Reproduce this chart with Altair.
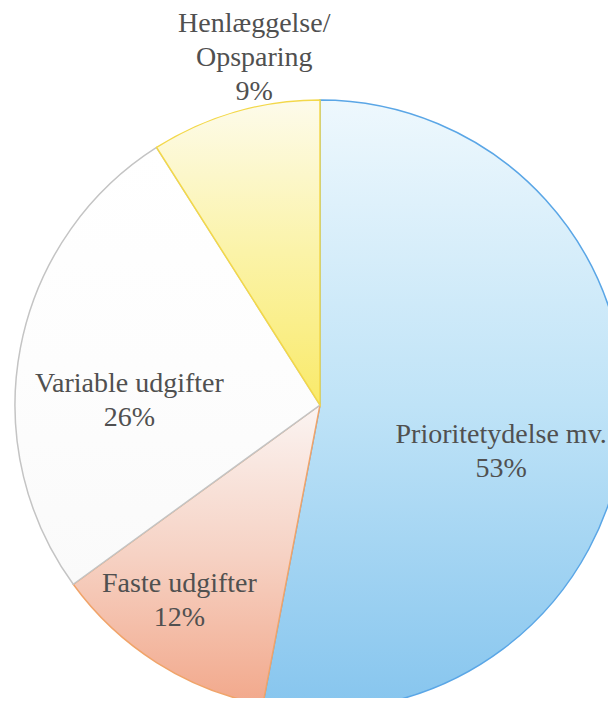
import altair as alt
import pandas as pd

# ---- data ----
categories = ["Prioritetydelse mv.", "Faste udgifter", "Variable udgifter", "Henlæggelse/Opsparing"]
label_texts = ["Prioritetydelse mv.", "Faste udgifter", "Variable udgifter", "Henlæggelse/\nOpsparing"]
values = [53, 12, 26, 9]

# ---- derived table ----
rows = []
acc = 0
for cat, lab, v in zip(categories, label_texts, values):
    rows.append({"category": cat, "start": acc, "end": acc + v, "mid": acc + v / 2,
                 "label": f"{lab}\n{v}%"})
    acc += v
df = pd.DataFrame(rows)

# ---- styles ----
CX, CY, R = 312, 397, 305
styles = {
    "Prioritetydelse mv.": {"stops": ["#eef8fd", "#bfe3f7", "#86c5ee"], "stroke": "#5aa6e6",
                            "r": 186, "dx": -4, "dy": 12},
    "Faste udgifter": {"stops": ["#fbf4f2", "#f6d2c4", "#f2a88b"], "stroke": "#f0a46a",
                       "r": 240, "dx": -12, "dy": -24},
    "Variable udgifter": {"stops": ["#ffffff", "#fdfdfd", "#fafafa"], "stroke": "#c4c4c4",
                          "r": 191, "dx": -3, "dy": 15},
    "Henlæggelse/Opsparing": {"stops": ["#fdfbeb", "#fbf3a8", "#f9ea6a"], "stroke": "#f3d84a",
                              "r": 354, "dx": 33, "dy": -41},
}

theta_scale = alt.Scale(domain=[0, 100], range=[0, 6.283185307179586])

base = alt.Chart(df)
layers = []
for cat in categories:
    st = styles[cat]
    grad = alt.Gradient(
        gradient="linear", x1=0, y1=0, x2=0, y2=1,
        stops=[alt.GradientStop(offset=0, color=st["stops"][0]),
               alt.GradientStop(offset=0.5, color=st["stops"][1]),
               alt.GradientStop(offset=1, color=st["stops"][2])],
    )
    layers.append(
        base.transform_filter(alt.datum.category == cat)
        .mark_arc(radius=R, fill=grad, stroke=st["stroke"], strokeWidth=1.5)
        .encode(
            theta=alt.Theta("start:Q", scale=theta_scale),
            theta2="end:Q",
            x=alt.value(CX), y=alt.value(CY),
        )
    )

for cat in categories:
    st = styles[cat]
    layers.append(
        base.transform_filter(alt.datum.category == cat)
        .mark_text(radius=st["r"], dx=st["dx"], dy=st["dy"], font="Liberation Serif",
                   fontSize=28, color="#505050", lineBreak="\n", lineHeight=34,
                   align="center", baseline="middle")
        .encode(
            theta=alt.Theta("mid:Q", scale=theta_scale),
            text="label:N",
            x=alt.value(CX), y=alt.value(CY),
        )
    )

chart = alt.layer(*layers).properties(
    width=600, height=690, padding=0,
    autosize=alt.AutoSizeParams(type="none"),
    background="white",
).configure_view(stroke=None)

chart.save("out.html", embed_options={"renderer": "svg", "actions": False})
